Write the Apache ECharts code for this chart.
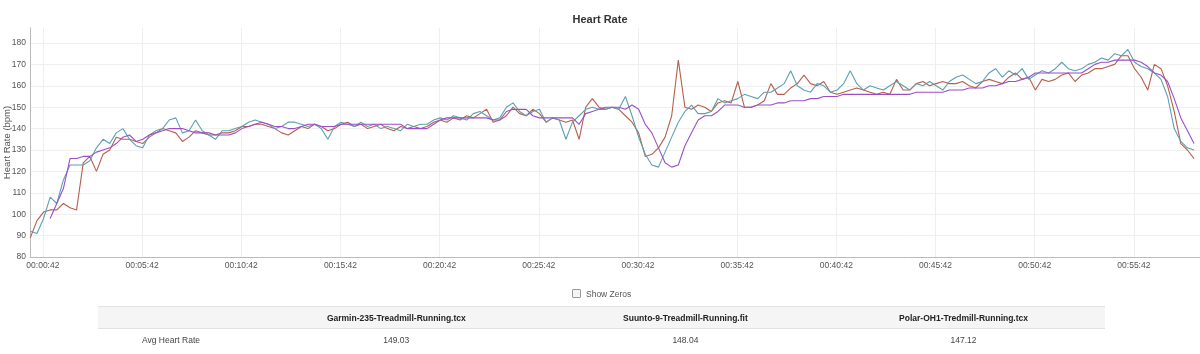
<!DOCTYPE html>
<html><head><meta charset="utf-8">
<script src="https://cdn.jsdelivr.net/npm/echarts@6/dist/echarts.min.js"></script>
<style>
html,body{margin:0;padding:0;background:#fff;}
#wrap{position:relative;width:1200px;height:354px;overflow:hidden;font-family:"Liberation Sans",Arial,sans-serif;}
#chart{position:absolute;left:0;top:0;width:1200px;height:354px;}
#zeros{position:absolute;left:572px;top:288px;font-size:8.5px;color:#555;line-height:12px;}
#zeros .box{display:inline-block;width:7px;height:7px;border:1px solid #999;border-radius:1px;background:#f4f4f4;vertical-align:-1px;margin-right:5px;}
#stats{position:absolute;left:98px;top:306px;width:1007px;border-collapse:collapse;font-size:8.5px;color:#444;}
#stats th{background:#f5f5f5;font-weight:bold;color:#222;height:21px;border-top:1px solid #e2e2e2;border-bottom:1px solid #e2e2e2;text-align:center;padding:0;}
#stats td{height:21px;text-align:center;padding:0;}
</style></head>
<body>
<div id="wrap">
  <div id="chart"></div>
  <div id="zeros"><span class="box"></span>Show Zeros</div>
  <table id="stats"><thead><tr id="hrow"></tr></thead><tbody><tr id="brow"></tr></tbody></table>
</div>
<script>
// ---- data (heart rate in bpm, sampled every 20 s starting at 4 s) ----
const sampleStart = 4;
const sampleStep = 20;
const garmin = [
89, 97, 101, 102, 102, 105, 103, 102, 124, 127, 120, 128, 130, 136, 135,
135, 134, 133, 136, 138, 140, 139, 138, 134, 136, 139, 138, 137, 137, 138,
138, 139, 141, 141, 142, 142, 141, 140, 138, 137, 139, 141, 140, 142, 141,
139, 140, 142, 143, 141, 142, 140, 141, 142, 140, 139, 141, 140, 141, 140,
141, 143, 144, 143, 145, 144, 146, 145, 147, 149, 143, 144, 146, 150, 147,
146, 149, 147, 143, 145, 144, 143, 144, 135, 150, 154, 150, 149, 150, 149,
146, 143, 138, 127, 128, 131, 136, 146, 172, 150, 149, 151, 150, 148, 152,
153, 152, 162, 150, 150, 151, 153, 161, 156, 156, 159, 161, 165, 161, 160,
162, 157, 156, 157, 158, 159, 158, 157, 156, 157, 156, 163, 158, 158, 161,
162, 160, 161, 162, 161, 161, 162, 160, 159, 162, 163, 162, 161, 164, 166,
163, 164, 158, 163, 162, 163, 165, 166, 162, 165, 166, 168, 168, 169, 170,
174, 174, 168, 164, 158, 170, 168, 160, 148, 133, 130, 126
];
const suunto = [
92, 91, 98, 108, 105, 116, 123, 123, 123, 125, 131, 135, 133, 138, 140,
135, 132, 131, 137, 139, 140, 144, 145, 138, 139, 144, 139, 137, 135, 139,
139, 140, 141, 143, 144, 143, 142, 140, 141, 143, 143, 142, 141, 142, 140,
135, 141, 143, 142, 141, 143, 141, 142, 140, 141, 140, 139, 142, 141, 142,
142, 144, 145, 144, 146, 145, 144, 147, 148, 146, 144, 145, 150, 152, 148,
146, 148, 149, 143, 145, 144, 135, 143, 146, 149, 150, 149, 149, 150, 149,
155, 146, 136, 128, 123, 122, 129, 136, 143, 148, 151, 147, 147, 148, 154,
152, 153, 154, 156, 155, 154, 157, 157, 159, 161, 167, 160, 158, 157, 161,
160, 157, 158, 161, 167, 161, 158, 160, 159, 158, 160, 162, 160, 158, 161,
160, 162, 160, 158, 162, 164, 165, 163, 161, 162, 166, 168, 164, 167, 165,
168, 163, 165, 167, 166, 168, 171, 168, 167, 168, 170, 171, 173, 172, 175,
174, 177, 171, 169, 168, 166, 163, 155, 140, 134, 131, 130
];
const polar = [
null, null, null, 98, 105, 112, 126, 126, 127, 127, 129, 130, 131, 133, 136,
137, 134, 135, 137, 138, 139, 140, 140, 140, 139, 138, 138, 138, 137, 137,
137, 138, 140, 141, 142, 143, 142, 141, 141, 140, 140, 141, 142, 142, 141,
141, 141, 142, 142, 142, 142, 142, 142, 142, 142, 142, 142, 140, 140, 140,
140, 142, 144, 145, 145, 145, 145, 145, 145, 145, 144, 144, 148, 149, 149,
149, 146, 145, 145, 145, 145, 145, 145, 142, 147, 148, 149, 150, 150, 150,
149, 151, 149, 142, 138, 131, 124, 122, 123, 132, 138, 144, 146, 146, 148,
151, 151, 151, 150, 150, 151, 151, 151, 152, 152, 153, 153, 153, 154, 154,
155, 155, 155, 156, 156, 156, 156, 156, 156, 156, 156, 156, 156, 156, 157,
157, 157, 157, 157, 158, 158, 158, 159, 159, 159, 160, 160, 161, 162, 162,
163, 164, 166, 166, 166, 166, 166, 166, 166, 166, 168, 170, 171, 171, 172,
172, 172, 172, 171, 169, 166, 165, 162, 154, 145, 139, 133
];
const seriesNames = ["Garmin-235-Treadmill-Running.tcx", "Suunto-9-Treadmill-Running.fit", "Polar-OH1-Tredmill-Running.tcx"];
const avgHeartRate = ["149.03", "148.04", "147.12"];
const xTickSeconds = [42, 342, 642, 942, 1242, 1542, 1842, 2142, 2442, 2742, 3042, 3342];
const yTicks = [80, 90, 100, 110, 120, 130, 140, 150, 160, 170, 180];
const colors = ["#b5604b", "#5c9fb6", "#9a4fc9"];

// ---- table ----
const hrow = document.getElementById('hrow');
const brow = document.getElementById('brow');
hrow.innerHTML = '<th style="width:146px"></th>' + seriesNames.map(n => '<th>' + n + '</th>').join('');
brow.innerHTML = '<td>Avg Heart Rate</td>' + avgHeartRate.map(v => '<td>' + v + '</td>').join('');

// ---- chart ----
function pairs(arr) { return arr.map((v, i) => [sampleStart + i * sampleStep, v]); }
function hms(s) {
  const h = Math.floor(s / 3600), m = Math.floor((s % 3600) / 60), sec = Math.round(s % 60);
  const p = n => (n < 10 ? '0' : '') + n;
  return p(h) + ':' + p(m) + ':' + p(sec);
}
const font = '"Liberation Sans", Arial, sans-serif';
const chart = echarts.init(document.getElementById('chart'), null, {renderer: 'canvas'});
chart.setOption({
  animation: false,
  title: {text: 'Heart Rate', left: 'center', top: 9, textStyle: {fontSize: 11, fontWeight: 'bold', color: '#333', fontFamily: font}},
  grid: {left: 30, right: 0, top: 28, bottom: 97, containLabel: false, outerBoundsMode: 'none'},
  xAxis: {
    type: 'value', min: 3, max: 3542,
    axisLine: {show: true, lineStyle: {color: '#bbb', width: 1}},
    axisTick: {show: false, customValues: xTickSeconds},
    axisLabel: {customValues: xTickSeconds, formatter: v => hms(v), fontSize: 8.5, color: '#555', fontFamily: font, margin: 4},
    splitLine: {show: true, lineStyle: {color: '#efefef', width: 1}}
  },
  yAxis: {
    type: 'value', min: 80, max: 187,
    name: 'Heart Rate (bpm)', nameLocation: 'middle', nameGap: 18, nameRotate: 90, nameMoveOverlap: false,
    nameTextStyle: {fontSize: 9.5, color: '#555', fontFamily: font},
    axisLine: {show: true, lineStyle: {color: '#bbb', width: 1}},
    axisTick: {show: false, customValues: yTicks},
    axisLabel: {customValues: yTicks, fontSize: 8.5, color: '#555', fontFamily: font, margin: 4},
    splitLine: {show: true, lineStyle: {color: '#efefef', width: 1}}
  },
  series: [
    {name: seriesNames[0], type: 'line', data: pairs(garmin), showSymbol: false, lineStyle: {width: 1.1, color: colors[0]}, itemStyle: {color: colors[0]}},
    {name: seriesNames[1], type: 'line', data: pairs(suunto), showSymbol: false, lineStyle: {width: 1.1, color: colors[1]}, itemStyle: {color: colors[1]}},
    {name: seriesNames[2], type: 'line', data: pairs(polar), showSymbol: false, lineStyle: {width: 1.1, color: colors[2]}, itemStyle: {color: colors[2]}}
  ]
});
</script>
</body></html>
